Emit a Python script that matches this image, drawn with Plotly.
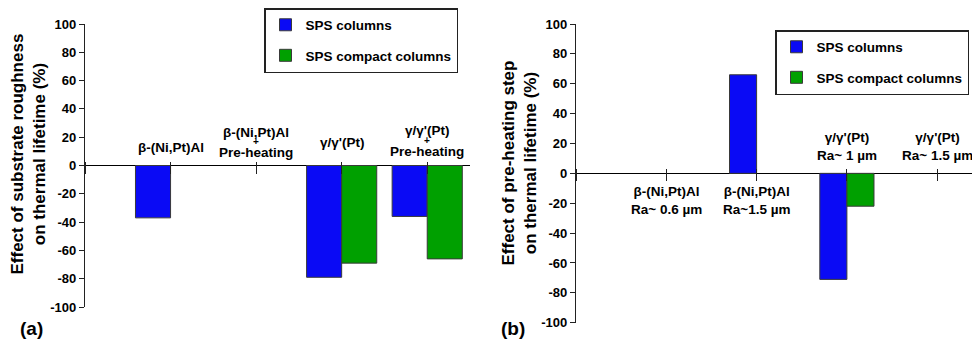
import plotly.graph_objects as go

# ---------------- data ----------------
series_names = ["SPS columns", "SPS compact columns"]

# panel (a): effect of substrate roughness
cats_a = ["β-(Ni,Pt)Al", "β-(Ni,Pt)Al + Pre-heating", "γ/γ'(Pt)", "γ/γ'(Pt) + Pre-heating"]
sps_a = [-37, None, -79, -36]
compact_a = [None, None, -69, -66]

# panel (b): effect of pre-heating step
cats_b = ["β-(Ni,Pt)Al Ra~ 0.6 µm", "β-(Ni,Pt)Al Ra~1.5 µm", "γ/γ'(Pt) Ra~ 1 µm", "γ/γ'(Pt) Ra~ 1.5 µm"]
sps_b = [None, 66, -71, None]
compact_b = [None, None, -22, None]

y_ticks = [-100, -80, -60, -40, -20, 0, 20, 40, 60, 80, 100]
y_ticktext = ["-100", "-80", "-60", "-40", "-20", "0", "20", "40", "60", "80", "100"]

ytitle_a = "Effect of substrate roughness<br>on thermal lifetime (%)"
ytitle_b = "Effect of pre-heating step<br>on thermal lifetime (%)"

# ---------------- style ----------------
FONT = "Liberation Sans, Arial, sans-serif"
BLUE = "#0A0AF5"
GREEN = "#00A000"
OUT = "#3a3a3a"
W, H = 972, 340

xa = list(range(len(cats_a)))
xb = list(range(len(cats_b)))

fig = go.Figure()

wa = 0.41
wb = 0.30
fig.add_trace(go.Bar(x=xa, y=sps_a, name=series_names[0], width=wa, offset=-wa,
                     marker=dict(color=BLUE, line=dict(color=OUT, width=1)),
                     xaxis="x", yaxis="y", legend="legend", legendgroup="a1"))
fig.add_trace(go.Bar(x=xa, y=compact_a, name=series_names[1], width=wa, offset=0,
                     marker=dict(color=GREEN, line=dict(color=OUT, width=1)),
                     xaxis="x", yaxis="y", legend="legend", legendgroup="a2"))
fig.add_trace(go.Bar(x=xb, y=sps_b, name=series_names[0], width=wb, offset=-wb,
                     marker=dict(color=BLUE, line=dict(color=OUT, width=1)),
                     xaxis="x2", yaxis="y2", legend="legend2", legendgroup="b1"))
fig.add_trace(go.Bar(x=xb, y=compact_b, name=series_names[1], width=wb, offset=0,
                     marker=dict(color=GREEN, line=dict(color=OUT, width=1)),
                     xaxis="x2", yaxis="y2", legend="legend2", legendgroup="b2"))

# domains (paper fractions)
dom_ya = [1 - 307 / H, 1 - 24 / H]
dom_yb = [1 - 322.7 / H, 1 - 24 / H]
dom_xa = [85 / W, 470 / W]
dom_xb = [576 / W, 1.0]
zero_a = (dom_ya[0] + dom_ya[1]) / 2
zero_b = (dom_yb[0] + dom_yb[1]) / 2

yax = dict(range=[-100, 100], tickmode="array", tickvals=y_ticks,
           ticktext=["<b>%s</b>" % t for t in y_ticktext],
           showgrid=False, zeroline=True,
           zerolinecolor="black", zerolinewidth=1.2, showline=True, linecolor="#222",
           linewidth=1.2, ticks="outside", ticklen=5, tickcolor="#222", tickwidth=1,
           tickfont=dict(family=FONT, size=13, color="black"),
           fixedrange=True)
xax = dict(showgrid=False, zeroline=False, showline=False, ticks="outside",
           ticklen=12, tickcolor="#222", tickwidth=1, showticklabels=False,
           tickmode="linear", tick0=0, dtick=1, anchor="free")

LEGFONT = dict(family=FONT, size=13.5, color="black", weight="bold")
fig.update_layout(
    width=W, height=H, margin=dict(l=0, r=0, t=0, b=0, pad=0, autoexpand=False),
    paper_bgcolor="white", plot_bgcolor="rgba(0,0,0,0)",
    barmode="overlay", showlegend=True,
    font=dict(family=FONT, color="black"),
    xaxis=dict(xax, domain=dom_xa, range=[-1, 3.5], position=zero_a + 5 / H),
    yaxis=dict(yax, domain=dom_ya, anchor="x"),
    xaxis2=dict(xax, domain=dom_xb, range=[-1, -1 + (W - 576) / 90.3], position=zero_b + 5 / H),
    yaxis2=dict(yax, domain=dom_yb, anchor="x2"),
    legend=dict(x=264 / W, y=1 - 8 / H, xanchor="left", yanchor="top",
                bordercolor="#222", borderwidth=1.5, bgcolor="white",
                font=LEGFONT, tracegroupgap=10, traceorder="grouped"),
    legend2=dict(x=775 / W, y=1 - 30 / H, xanchor="left", yanchor="top",
                 bordercolor="#222", borderwidth=1.5, bgcolor="white",
                 font=LEGFONT, tracegroupgap=10, traceorder="grouped"),
)

LBL = dict(family=FONT, size=13.5, color="black", weight="bold")
PLUS = dict(family=FONT, size=10, color="black", weight="bold")
ann = []

def add(text, x, y, xref, yref, font, **kw):
    ann.append(dict(text=text, x=x, y=y, xref=xref, yref=yref, showarrow=False,
                    xanchor="center", yanchor="middle", font=font, **kw))

# panel (a) category labels (above the axis)
add("β-(Ni,Pt)Al", xa[0], 12.5, "x", "y", LBL)
add("β-(Ni,Pt)Al", xa[1], 23.0, "x", "y", LBL)
add("+", xa[1], 17.0, "x", "y", PLUS)
add("Pre-heating", xa[1], 9.3, "x", "y", LBL)
add("γ/γ'(Pt)", xa[2], 16.0, "x", "y", LBL)
add("γ/γ'(Pt)", xa[3], 25.0, "x", "y", LBL)
add("+", xa[3], 18.0, "x", "y", PLUS)
add("Pre-heating", xa[3], 9.6, "x", "y", LBL)

# panel (b) category labels
add("β-(Ni,Pt)Al<br>Ra~ 0.6 µm", xb[0], -18.5, "x2", "y2", LBL)
add("β-(Ni,Pt)Al<br>Ra~1.5 µm", xb[1], -18.5, "x2", "y2", LBL)
add("γ/γ'(Pt)<br>Ra~ 1 µm", xb[2], 18.0, "x2", "y2", LBL)
add("γ/γ'(Pt)<br>Ra~ 1.5 µm", xb[3], 18.0, "x2", "y2", LBL)

# axis titles
TIT = dict(family=FONT, size=17, color="black", weight="bold")
add(ytitle_a, 28 / W, 1 - 154.5 / H, "paper", "paper", TIT, textangle=-90)
add(ytitle_b, 518.5 / W, 1 - 163 / H, "paper", "paper", TIT, textangle=-90)

# panel letters
PAN = dict(family=FONT, size=19, color="black", weight="bold")
add("(a)", 31 / W, 1 - 328 / H, "paper", "paper", PAN)
add("(b)", 513 / W, 1 - 328 / H, "paper", "paper", PAN)

fig.update_layout(annotations=ann)
fig.write_html("out.html")
